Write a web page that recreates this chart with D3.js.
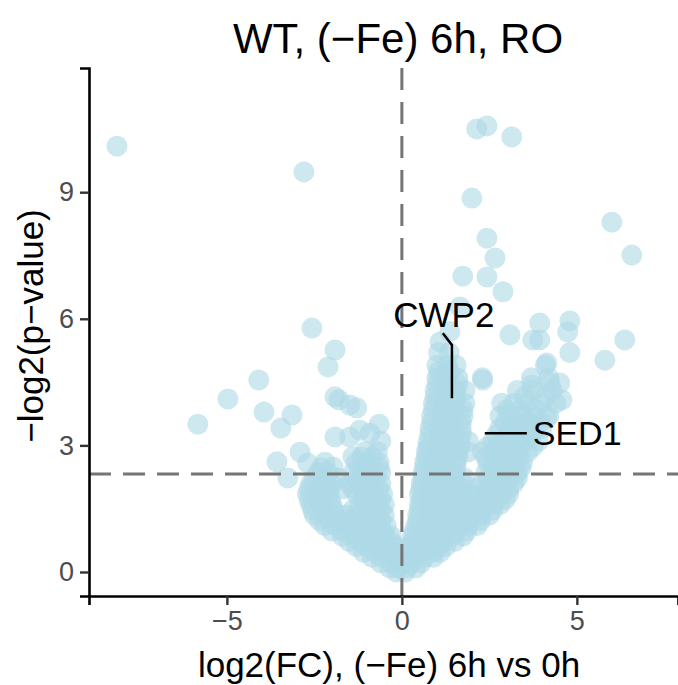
<!DOCTYPE html>
<html>
<head>
<meta charset="utf-8">
<script src="https://cdn.jsdelivr.net/npm/d3@7"></script>
<style>
  body { margin: 0; background: #fff; }
  svg { font-family: "Liberation Sans", Arial, sans-serif; }
</style>
</head>
<body>
<div id="graphContainer"></div>
<script>
// log2 fold change / -log2 p-value pairs
const denseGenes = [
  [-0.15,0.0],[0.1,0.0],
  [-0.35,0.1],[-0.1,0.1],[0.15,0.1],[0.4,0.1],
  [-0.85,0.35],[-0.55,0.35],[-0.25,0.35],[0.05,0.35],[0.35,0.35],[0.65,0.35],[0.9,0.35],
  [-1.3,0.6],[-1.0,0.6],[-0.7,0.6],[-0.4,0.6],[-0.15,0.6],[0.2,0.6],[0.45,0.6],[0.75,0.6],[1.05,0.6],[1.25,0.6],
  [-1.7,0.85],[-1.4,0.85],[-1.1,0.85],[-0.8,0.85],[-0.5,0.85],[-0.3,0.85],[0.3,0.85],[0.55,0.85],[0.85,0.85],[1.15,0.85],[1.45,0.85],[1.75,0.85],
  [-2.2,1.1],[-1.9,1.1],[-1.6,1.1],[-1.3,1.1],[-1.0,1.1],[-0.7,1.1],[-0.45,1.1],[0.4,1.1],[0.7,1.1],[1.0,1.1],[1.3,1.1],[1.6,1.1],[1.9,1.1],[2.15,1.1],
  [-2.5,1.35],[-2.2,1.35],[-1.9,1.35],[-1.6,1.35],[-1.3,1.35],[-1.0,1.35],[-0.75,1.35],[-0.5,1.35],[0.45,1.35],[0.75,1.35],[1.05,1.35],[1.35,1.35],[1.65,1.35],[1.95,1.35],[2.25,1.35],[2.5,1.35],
  [-2.6,1.6],[-2.3,1.6],[-2.0,1.6],[-1.2,1.6],[-0.95,1.6],[-0.7,1.6],[-0.5,1.6],[0.5,1.6],[0.8,1.6],[1.1,1.6],[1.4,1.6],[1.7,1.6],[2.0,1.6],[2.3,1.6],[2.6,1.6],[2.8,1.6],
  [-2.7,1.85],[-2.4,1.85],[-2.1,1.85],[-1.3,1.85],[-1.05,1.85],[-0.8,1.85],[-0.55,1.85],[0.5,1.85],[0.8,1.85],[1.1,1.85],[1.4,1.85],[1.7,1.85],[2.0,1.85],[2.3,1.85],[2.6,1.85],[2.85,1.85],[3.05,1.85],
  [-2.6,2.1],[-2.3,2.1],[-2.0,2.1],[-1.5,2.1],[-1.2,2.1],[-0.9,2.1],[-0.6,2.1],[0.55,2.1],[0.85,2.1],[1.15,2.1],[1.45,2.1],[1.75,2.1],[2.3,2.1],[2.6,2.1],[2.9,2.1],[3.2,2.1],
  [-2.4,2.35],[-2.1,2.35],[-1.4,2.35],[-1.1,2.35],[-0.85,2.35],[-0.6,2.35],[0.6,2.35],[0.9,2.35],[1.2,2.35],[1.5,2.35],[2.4,2.35],[2.7,2.35],[3.0,2.35],[3.3,2.35],
  [-2.2,2.6],[-1.3,2.6],[-0.95,2.6],[-0.65,2.6],[0.65,2.6],[0.95,2.6],[1.25,2.6],[1.55,2.6],[2.45,2.6],[2.75,2.6],[3.05,2.6],[3.45,2.6],
  [-1.05,2.85],[-0.7,2.85],[0.7,2.85],[1.0,2.85],[1.3,2.85],[1.6,2.85],[1.9,2.85],[2.3,2.85],[2.6,2.85],[2.9,2.85],[3.2,2.85],[3.6,2.85],
  [0.75,3.1],[1.05,3.1],[1.35,3.1],[1.65,3.1],[1.9,3.1],[2.6,3.1],[2.9,3.1],[3.2,3.1],[3.5,3.1],[3.9,3.1],
  [0.8,3.4],[1.1,3.4],[1.4,3.4],[1.7,3.4],[2.8,3.4],[3.1,3.4],[3.4,3.4],[3.7,3.4],[4.0,3.4],
  [0.85,3.7],[1.15,3.7],[1.45,3.7],[1.75,3.7],[2.8,3.7],[3.1,3.7],[3.45,3.7],[3.8,3.7],[4.2,3.7],
  [0.9,4.0],[1.2,4.0],[1.5,4.0],[1.8,4.0],[2.85,4.0],[3.2,4.0],[3.6,4.0],[4.0,4.0],[4.4,4.0],
  [0.95,4.3],[1.25,4.3],[1.55,4.3],[1.8,4.3],[3.3,4.3],[3.75,4.3],[4.3,4.3],
  [1.0,4.6],[1.3,4.6],[1.6,4.6],[2.3,4.6],[3.7,4.6],[4.2,4.6],
  [1.0,4.9],[1.3,4.9],[1.55,4.9],[4.1,4.9],
  [1.05,5.2],[1.35,5.2],[4.8,5.2]
];

// second, staggered layer of the crowded cloud
const crowdGenes = [
  [-0.6,0.22],[-0.3,0.22],[0.0,0.22],[0.25,0.22],[0.55,0.22],
  [-1.1,0.47],[-0.8,0.47],[-0.5,0.47],[-0.2,0.47],[0.1,0.47],[0.35,0.47],[0.6,0.47],[0.9,0.47],[1.1,0.47],
  [-1.5,0.72],[-1.2,0.72],[-0.9,0.72],[-0.6,0.72],[-0.3,0.72],[0.3,0.72],[0.6,0.72],[0.9,0.72],[1.2,0.72],[1.5,0.72],
  [-2.0,0.97],[-1.7,0.97],[-1.4,0.97],[-1.1,0.97],[-0.8,0.97],[-0.55,0.97],[0.35,0.97],[0.65,0.97],[0.95,0.97],[1.25,0.97],[1.55,0.97],[1.85,0.97],
  [-2.35,1.22],[-2.05,1.22],[-1.75,1.22],[-1.45,1.22],[-1.15,1.22],[-0.85,1.22],[-0.6,1.22],[0.45,1.22],[0.75,1.22],[1.05,1.22],[1.35,1.22],[1.65,1.22],[1.95,1.22],[2.25,1.22],
  [-2.55,1.47],[-2.25,1.47],[-1.95,1.47],[-1.4,1.47],[-1.1,1.47],[-0.85,1.47],[-0.6,1.47],[0.5,1.47],[0.8,1.47],[1.1,1.47],[1.4,1.47],[1.7,1.47],[2.0,1.47],[2.3,1.47],[2.6,1.47],
  [-2.65,1.72],[-2.35,1.72],[-2.05,1.72],[-1.1,1.72],[-0.85,1.72],[-0.6,1.72],[0.55,1.72],[0.85,1.72],[1.15,1.72],[1.45,1.72],[1.75,1.72],[2.05,1.72],[2.4,1.72],[2.7,1.72],[2.95,1.72],
  [-2.65,1.97],[-2.35,1.97],[-2.05,1.97],[-1.7,1.97],[-1.4,1.97],[-1.15,1.97],[-0.9,1.97],[-0.65,1.97],[0.55,1.97],[0.85,1.97],[1.15,1.97],[1.45,1.97],[1.75,1.97],[2.1,1.97],[2.45,1.97],[2.75,1.97],[3.05,1.97],
  [-2.5,2.22],[-2.2,2.22],[-1.8,2.22],[-1.3,2.22],[-1.0,2.22],[-0.75,2.22],[0.6,2.22],[0.9,2.22],[1.2,2.22],[1.5,2.22],[1.8,2.22],[2.45,2.22],[2.75,2.22],[3.05,2.22],[3.3,2.22],
  [-2.3,2.47],[-1.2,2.47],[-0.9,2.47],[-0.65,2.47],[0.65,2.47],[0.95,2.47],[1.25,2.47],[1.55,2.47],[2.6,2.47],[2.9,2.47],[3.2,2.47],[3.4,2.47],
  [-1.15,2.72],[-0.85,2.72],[0.7,2.72],[1.0,2.72],[1.3,2.72],[1.6,2.72],[2.4,2.72],[2.7,2.72],[3.0,2.72],[3.35,2.72],
  [0.75,2.97],[1.05,2.97],[1.35,2.97],[1.65,2.97],[2.45,2.97],[2.75,2.97],[3.05,2.97],[3.4,2.97],[3.75,2.97],
  [0.8,3.25],[1.1,3.25],[1.4,3.25],[1.7,3.25],[2.7,3.25],[3.0,3.25],[3.35,3.25],[3.7,3.25],
  [0.85,3.55],[1.15,3.55],[1.45,3.55],[1.7,3.55],[2.95,3.55],[3.3,3.55],[3.6,3.55],[3.95,3.55],
  [0.9,3.85],[1.2,3.85],[1.5,3.85],[1.75,3.85],[3.0,3.85],[3.4,3.85],[3.8,3.85],
  [0.95,4.15],[1.25,4.15],[1.55,4.15],[3.5,4.15],[4.1,4.15],
  [1.0,4.45],[1.3,4.45],[1.6,4.45],
  [1.05,4.75],[1.35,4.75]
];

const outlierGenes = [
  [-8.14,10.09],[-2.8,9.48],[-2.57,5.78],[-1.91,5.26],[-2.11,4.86],[-1.91,4.15],
  [-4.09,4.55],[-4.97,4.1],[-5.83,3.5],[-3.94,3.79],[-3.14,3.72],[-3.46,3.41],
  [-1.8,4.08],[-1.49,3.96],[-1.29,3.89],[-1.91,3.2],[-1.2,3.36],[-0.91,3.29],
  [-1.49,3.2],[-0.65,3.5],[-0.6,3.1],[-2.91,2.84],[-2.69,2.58],[-3.57,2.61],
  [-3.26,2.23],[-1.97,2.49],[-1.4,2.73],
  [2.14,10.5],[2.43,10.57],[3.14,10.31],[2.0,8.86],[6.0,8.29],[6.57,7.51],
  [2.43,7.91],[2.66,7.44],[1.74,7.01],[2.43,6.99],[2.89,6.64],[3.09,5.62],
  [3.94,5.9],[4.8,5.95],[4.74,5.69],[3.94,5.5],[3.74,5.5],[6.37,5.5],[5.8,5.02],
  [1.66,6.28],[1.37,5.7],[1.09,5.45],[2.31,4.55],[3.71,4.43],[4.23,4.48],
  [4.51,4.48],[4.14,4.95],[4.57,4.08],[4.14,3.67]
];

// labelled genes: point, bend of the leader line, label anchor
const labelNames = ["CWP2", "SED1"];
const labelPoints = [[1.43, 4.12], [2.37, 3.29]];
const labelBends = [[[1.43, 5.38], [1.17, 5.66]], [[3.57, 3.29]]];
const labelAnchors = [[1.2, 5.81], [3.74, 3.29]];

const xTicks = [-5, 0, 5];
const yTicks = [0, 3, 6, 9];
const fcCutoff = 0;
const pCutoff = -Math.log2(0.2);

const width = 678;
const height = 685;

const xScale = d3.scaleLinear().domain([-8.94, 7.89]).range([89, 678]);
const yScale = d3.scaleLinear().domain([-0.569, 11.943]).range([596, 68]);

const svg = d3
  .select("#graphContainer")
  .append("svg")
  .attr("width", width)
  .attr("height", height);

// title
svg
  .append("text")
  .attr("x", 398)
  .attr("y", 53)
  .attr("text-anchor", "middle")
  .attr("font-size", "42px")
  .attr("fill", "#000")
  .text("WT, (\u2212Fe) 6h, RO");

// points
const allGenes = denseGenes.concat(crowdGenes, outlierGenes);
svg
  .append("g")
  .selectAll("circle")
  .data(allGenes)
  .enter()
  .append("circle")
  .attr("cx", (d) => xScale(d[0]))
  .attr("cy", (d) => yScale(d[1]))
  .attr("r", 10.5)
  .attr("fill", "lightblue")
  .attr("fill-opacity", 0.6);

// threshold lines
svg
  .append("line")
  .attr("x1", xScale(fcCutoff))
  .attr("x2", xScale(fcCutoff))
  .attr("y1", yScale.range()[1])
  .attr("y2", yScale.range()[0])
  .attr("stroke", "#757575")
  .attr("stroke-width", 3)
  .attr("stroke-dasharray", "22,12");

svg
  .append("line")
  .attr("x1", xScale.range()[0])
  .attr("x2", xScale.range()[1])
  .attr("y1", yScale(pCutoff))
  .attr("y2", yScale(pCutoff))
  .attr("stroke", "#757575")
  .attr("stroke-width", 3)
  .attr("stroke-dasharray", "22,12");

// gene labels
const line = d3
  .line()
  .x((d) => xScale(d[0]))
  .y((d) => yScale(d[1]));

labelNames.forEach((name, i) => {
  svg
    .append("path")
    .attr("d", line([labelPoints[i]].concat(labelBends[i])))
    .attr("fill", "none")
    .attr("stroke", "#000")
    .attr("stroke-width", 2.5);
});

svg
  .append("text")
  .attr("x", xScale(labelAnchors[0][0]))
  .attr("y", yScale(labelAnchors[0][1]))
  .attr("text-anchor", "middle")
  .attr("font-size", "35px")
  .text(labelNames[0]);

svg
  .append("text")
  .attr("x", xScale(labelAnchors[1][0]))
  .attr("y", yScale(labelAnchors[1][1]))
  .attr("dy", "0.36em")
  .attr("text-anchor", "start")
  .attr("font-size", "34px")
  .text(labelNames[1]);

// axes
const fmt = (d) => (d < 0 ? "\u2212" + Math.abs(d) : d);
const xAxis = d3.axisBottom(xScale).tickValues(xTicks).tickSize(9).tickPadding(6).tickFormat(fmt);
const yAxis = d3.axisLeft(yScale).tickValues(yTicks).tickSize(9).tickPadding(6).tickFormat(fmt);

const gx = svg
  .append("g")
  .attr("transform", "translate(0,596)")
  .call(xAxis);

const gy = svg
  .append("g")
  .attr("transform", "translate(89,0)")
  .call(yAxis);

[gx, gy].forEach((g) => {
  g.select(".domain").attr("stroke", "#000").attr("stroke-width", 2.6);
  g.selectAll(".tick line").attr("stroke", "#333").attr("stroke-width", 2.4);
  g.selectAll(".tick text")
    .attr("fill", "#4d4d4d")
    .attr("font-size", "27px")
    .attr("font-family", "Liberation Sans, Arial, sans-serif");
});

// axis titles
svg
  .append("text")
  .attr("x", 389)
  .attr("y", 677)
  .attr("text-anchor", "middle")
  .attr("font-size", "35px")
  .text("log2(FC), (\u2212Fe) 6h vs 0h");

svg
  .append("text")
  .attr("transform", "translate(43,326) rotate(-90)")
  .attr("text-anchor", "middle")
  .attr("font-size", "35px")
  .text("\u2212log2(p\u2212value)");
</script>
</body>
</html>
